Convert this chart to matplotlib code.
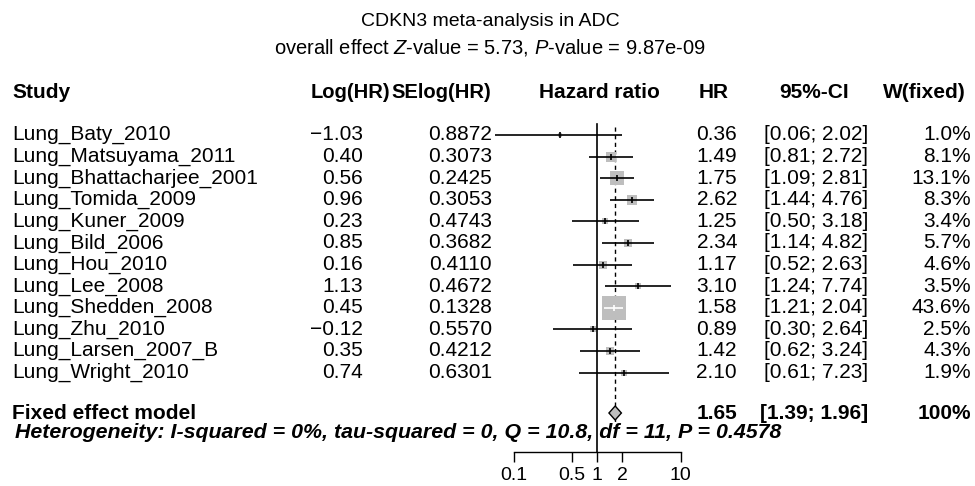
import matplotlib
matplotlib.use('Agg')
import matplotlib.pyplot as plt
import matplotlib.transforms as mtransforms
import numpy as np

plt.rcParams['font.family'] = ['Liberation Sans', 'DejaVu Sans']
plt.rcParams['mathtext.fontset'] = 'custom'
plt.rcParams['mathtext.rm'] = 'Liberation Sans'
plt.rcParams['mathtext.it'] = 'Liberation Sans:italic'

# study level data (CDKN3, ADC)
studies = ['Lung_Baty_2010', 'Lung_Matsuyama_2011', 'Lung_Bhattacharjee_2001',
           'Lung_Tomida_2009', 'Lung_Kuner_2009', 'Lung_Bild_2006', 'Lung_Hou_2010',
           'Lung_Lee_2008', 'Lung_Shedden_2008', 'Lung_Zhu_2010',
           'Lung_Larsen_2007_B', 'Lung_Wright_2010']
log_hr = [-1.03, 0.40, 0.56, 0.96, 0.23, 0.85, 0.16, 1.13, 0.45, -0.12, 0.35, 0.74]
se_log_hr = [0.8872, 0.3073, 0.2425, 0.3053, 0.4743, 0.3682, 0.4110, 0.4672,
             0.1328, 0.5570, 0.4212, 0.6301]
hr = [0.36, 1.49, 1.75, 2.62, 1.25, 2.34, 1.17, 3.10, 1.58, 0.89, 1.42, 2.10]
ci_lo = [0.06, 0.81, 1.09, 1.44, 0.50, 1.14, 0.52, 1.24, 1.21, 0.30, 0.62, 0.61]
ci_hi = [2.02, 2.72, 2.81, 4.76, 3.18, 4.82, 2.63, 7.74, 2.04, 2.64, 3.24, 7.23]
weights = [1.0, 8.1, 13.1, 8.3, 3.4, 5.7, 4.6, 3.5, 43.6, 2.5, 4.3, 1.9]

# pooled (fixed effect) estimate
fixed_hr = 1.65
fixed_lo = 1.39
fixed_hi = 1.96
het_text = 'Heterogeneity: I-squared = 0%, tau-squared = 0, Q = 10.8, df = 11, P = 0.4578'

ticks = [0.1, 0.5, 1, 2, 10]
tick_labels = ['0.1', '0.5', '1', '2', '10']

W, H = 975, 486
fig = plt.figure(figsize=(W / 100, H / 100), dpi=100)

# forest panel: log scale, 83.5 px per decade, HR = 1 at x = 597 px
px_dec = 83.5
px_one = 597
left_px, right_px = 460, 700
ax = fig.add_axes([left_px / W, 0, (right_px - left_px) / W, 1])
ax.set_xscale('log')
ax.set_xlim(10 ** ((left_px - px_one) / px_dec), 10 ** ((right_px - px_one) / px_dec))

# rows: first study at 135 px from top, 21.6 px apart
row0_px, row_h = 135, 21.6


def row_of(py):
    return 1 + (py - row0_px) / row_h


ax.set_ylim(row_of(H), row_of(0))
ax.patch.set_alpha(0)

rows = np.arange(1, len(studies) + 1)
box_col = '#bebebe'

for r, est, lo, hi, w in zip(rows, hr, ci_lo, ci_hi, weights):
    # box area proportional to the study weight
    side_px = 24 * np.sqrt(w / max(weights))
    side_pt = side_px * 72 / 100
    ax.scatter([est], [r], s=side_pt ** 2, marker='s', color=box_col,
               linewidths=0, zorder=2)
    half = side_px / 2 / px_dec
    inside = (np.log10(lo) >= np.log10(est) - half) and (np.log10(hi) <= np.log10(est) + half)
    lc = 'white' if inside else 'black'
    ax.plot([lo, hi], [r, r], color=lc, lw=1.2, zorder=3, solid_capstyle='butt')
    ax.plot([est], [r], marker='|', ms=4, mew=1.2, color=lc, zorder=4)

fixed_row = row_of(413)
het_row = row_of(432)
axis_row = row_of(452)
header_row = row_of(93)

# reference line at HR = 1 and dashed line at the pooled estimate
ax.plot([1, 1], [row_of(124), axis_row], color='black', lw=1.2, zorder=1)
ax.plot([fixed_hr, fixed_hr], [row_of(127), row_of(425)], color='black', lw=1.0,
        ls=(0, (3, 2.5)), zorder=1)

dh = 7 / row_h
ax.fill([fixed_lo, fixed_hr, fixed_hi, fixed_hr],
        [fixed_row, fixed_row - dh, fixed_row, fixed_row + dh],
        facecolor=box_col, edgecolor='black', lw=1.0, zorder=5)

# x axis drawn at the bottom of the study rows
for s in ['top', 'right', 'left']:
    ax.spines[s].set_visible(False)
ax.spines['bottom'].set_position(('data', axis_row))
ax.spines['bottom'].set_bounds(ticks[0], ticks[-1])
ax.spines['bottom'].set_linewidth(1.0)
ax.set_xticks(ticks)
ax.set_xticklabels(tick_labels)
ax.xaxis.set_minor_locator(matplotlib.ticker.NullLocator())
ax.tick_params(axis='x', length=7, width=1.0, pad=4, labelsize=14)
ax.set_yticks([])

# text columns: x in figure pixels, y in rows
tr = mtransforms.blended_transform_factory(fig.transFigure, ax.transData)


def put(px, row, s, ha='left', size=15, **kw):
    ax.text(px / W, row, s, transform=tr, ha=ha, va='center', fontsize=size, **kw)


def fmt(v):
    return f'{v:.2f}'.replace('-', '\u2212')


for r, name, lh, se, h, lo, hi, w in zip(rows, studies, log_hr, se_log_hr, hr,
                                         ci_lo, ci_hi, weights):
    put(12, r, name)
    put(363, r, fmt(lh), ha='right')
    put(492, r, f'{se:.4f}', ha='right')
    put(737, r, f'{h:.2f}', ha='right')
    put(868, r, f'[{lo:.2f}; {hi:.2f}]', ha='right')
    put(971, r, f'{w:.1f}%', ha='right')

hs = 14.5
put(12, header_row, 'Study', weight='bold', size=15)
put(390, header_row, 'Log(HR)', ha='right', weight='bold', size=hs)
put(491, header_row, 'SElog(HR)', ha='right', weight='bold', size=hs)
put(599, header_row, 'Hazard ratio', ha='center', weight='bold', size=15)
put(729, header_row, 'HR', ha='right', weight='bold', size=15)
put(849, header_row, '95%-CI', ha='right', weight='bold', size=15)
put(966, header_row, 'W(fixed)', ha='right', weight='bold', size=15)

put(12, fixed_row, 'Fixed effect model', weight='bold')
put(737, fixed_row, f'{fixed_hr:.2f}', ha='right', weight='bold')
put(868, fixed_row, f'[{fixed_lo:.2f}; {fixed_hi:.2f}]', ha='right', weight='bold')
put(971, fixed_row, '100%', ha='right', weight='bold')
put(15, het_row, het_text, weight='bold', style='italic', size=15.4)

fig.text(490 / W, 1 - 22 / H, 'CDKN3 meta-analysis in ADC', ha='center', va='center',
         fontsize=14)
fig.text(490 / W, 1 - 48 / H, 'overall effect $Z$-value = 5.73, $P$-value = 9.87e-09',
         ha='center', va='center', fontsize=14.5)

fig.savefig('out.png', dpi=100)
